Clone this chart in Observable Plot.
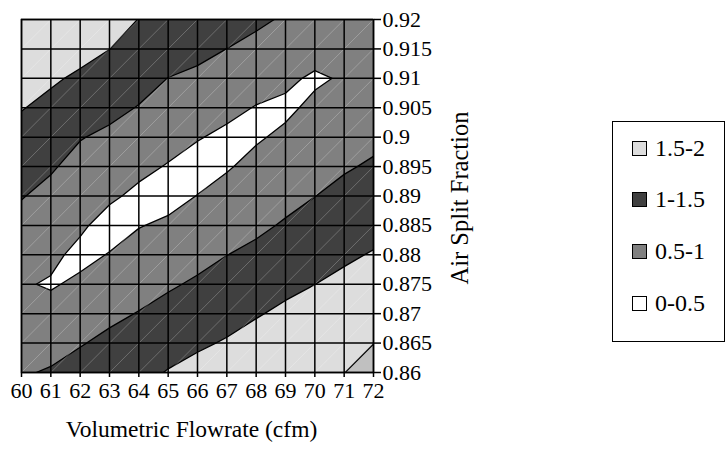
<!DOCTYPE html>
<html>
<head>
<meta charset="utf-8">
<script src="https://cdn.jsdelivr.net/npm/d3@7"></script>
<script src="https://cdn.jsdelivr.net/npm/@observablehq/plot@0.6"></script>
<style>
  html, body { margin: 0; padding: 0; background: #fff; }
  #chart { position: relative; width: 726px; height: 451px; font-family: "Liberation Serif", "Times New Roman", serif; }
  #legend { position: absolute; left: 612px; top: 121px; width: 113px; height: 221px; border: 1.5px solid #000; box-sizing: border-box; background: #fff; }
  .item { position: absolute; left: 19px; height: 24px; display: flex; align-items: center; font-size: 24px; color: #000; white-space: nowrap; }
  .sw { width: 13px; height: 13px; border: 1.5px solid #000; margin-right: 8px; flex: none; }
</style>
</head>
<body>
<div id="chart"></div>
<script>
// Grid of the surface: volumetric flowrate (cfm) across, air split fraction up.
const flowrate = [60, 61, 62, 63, 64, 65, 66, 67, 68, 69, 70, 71, 72];
const splitFraction = [0.86, 0.865, 0.87, 0.875, 0.88, 0.885, 0.89, 0.895, 0.9, 0.905, 0.91, 0.915, 0.92];

// Surface values, one row per split fraction (bottom row first), one column per flowrate.
const zRows = [
  [0.96, 1.04, 1.17, 1.295, 1.376, 1.524, 1.632, 1.716, 1.844, 1.941, 1.98, 1.995, 2.151],
  [0.79, 0.846, 0.972, 1.10, 1.197, 1.332, 1.44, 1.536, 1.656, 1.761, 1.838, 1.862, 1.995],
  [0.62, 0.652, 0.776, 0.907, 1.018, 1.14, 1.248, 1.356, 1.468, 1.581, 1.669, 1.725, 1.839],
  [0.54, 0.46, 0.579, 0.713, 0.839, 0.948, 1.058, 1.176, 1.28, 1.401, 1.498, 1.588, 1.683],
  [0.71, 0.594, 0.39, 0.519, 0.661, 0.757, 0.873, 0.996, 1.092, 1.221, 1.331, 1.441, 1.527],
  [0.87, 0.741, 0.567, 0.34, 0.482, 0.565, 0.691, 0.819, 0.921, 1.041, 1.162, 1.277, 1.368],
  [1.02, 0.89, 0.716, 0.567, 0.41, 0.373, 0.509, 0.642, 0.766, 0.881, 0.995, 1.114, 1.21],
  [1.18, 1.043, 0.866, 0.744, 0.601, 0.474, 0.332, 0.465, 0.612, 0.728, 0.859, 0.959, 1.051],
  [1.35, 1.215, 1.02, 0.92, 0.791, 0.649, 0.527, 0.412, 0.458, 0.576, 0.723, 0.823, 0.905],
  [1.52, 1.388, 1.226, 1.109, 0.981, 0.824, 0.721, 0.608, 0.48, 0.424, 0.587, 0.687, 0.765],
  [1.67, 1.56, 1.43, 1.306, 1.155, 0.995, 0.916, 0.804, 0.68, 0.578, 0.44, 0.542, 0.66],
  [1.82, 1.73, 1.64, 1.504, 1.328, 1.175, 1.111, 0.998, 0.88, 0.768, 0.67, 0.60, 0.58],
  [1.96, 1.9, 1.84, 1.70, 1.49, 1.35, 1.306, 1.196, 1.08, 0.95, 0.86, 0.72, 0.60]
];

// Contour bands (lower bound of each band) and legend entries.
const bandStarts = [0, 0.5, 1, 1.5, 2];
const legendLabels = ["1.5-2", "1-1.5", "0.5-1", "0-0.5"];
const legendStarts = [1.5, 1, 0.5, 0];

const xAxisTitle = "Volumetric Flowrate (cfm)";
const yAxisTitle = "Air Split Fraction";

const nx = flowrate.length;
const ny = splitFraction.length;
const values = zRows.flat();
const dx = flowrate[1] - flowrate[0];
const dy = splitFraction[1] - splitFraction[0];

// Cell diagonals of the surface mesh.
const cells = flowrate.slice(0, -1).flatMap((x, i) =>
  splitFraction.slice(0, -1).map((y, j) => ({x1: x, x2: flowrate[i + 1], y1: y, y2: splitFraction[j + 1]}))
);

const fmt = d => String(d);

const chart = Plot.plot({
  width: 726,
  height: 451,
  marginLeft: 21,
  marginRight: 353,
  marginTop: 19,
  marginBottom: 79,
  style: {fontFamily: "'Liberation Serif', 'Times New Roman', serif", color: "black", background: "white", overflow: "visible"},
  x: {domain: [flowrate[0], flowrate[nx - 1]], axis: null},
  y: {domain: [splitFraction[0], splitFraction[ny - 1]], axis: null},
  color: {type: "ordinal", domain: bandStarts, range: ["#ffffff", "#808080", "#404040", "#dddddd", "#c0c0c0"]},
  marks: [
    Plot.contour(values, {
      width: nx,
      height: ny,
      x1: flowrate[0] - dx / 2,
      x2: flowrate[nx - 1] + dx / 2,
      y1: splitFraction[0] - dy / 2,
      y2: splitFraction[ny - 1] + dy / 2,
      thresholds: bandStarts,
      fill: Plot.identity,
      stroke: "black",
      strokeWidth: 1.3,
      clip: true
    }),
    Plot.link(cells, {x1: "x1", y1: "y1", x2: "x2", y2: "y2", stroke: "white", strokeOpacity: 0.4, strokeWidth: 0.6}),
    Plot.ruleX(flowrate, {stroke: "black", strokeWidth: 1.5}),
    Plot.ruleY(splitFraction, {stroke: "black", strokeWidth: 1.5}),
    Plot.frame({stroke: "black", strokeWidth: 1.5}),
    Plot.axisX(flowrate, {anchor: "bottom", tickSize: 5, tickPadding: 5, fontSize: 22, tickFormat: fmt, label: null, strokeWidth: 1.5}),
    Plot.axisY(splitFraction, {anchor: "right", tickSize: 7, tickPadding: 2, fontSize: 22, tickFormat: fmt, label: null, strokeWidth: 1.5}),
    Plot.text([xAxisTitle], {frameAnchor: "bottom", lineAnchor: "middle", textAnchor: "middle", dy: 57, dx: -6, fontSize: 23.5}),
    Plot.text([yAxisTitle], {frameAnchor: "right", lineAnchor: "middle", textAnchor: "middle", dx: 87, dy: 2, rotate: -90, fontSize: 24.5})
  ]
});

const root = document.getElementById("chart");
root.appendChild(chart);

// Legend box to the right of the plot, colours taken from the plot's colour scale.
const color = chart.scale("color");
const legend = document.createElement("div");
legend.id = "legend";
legendLabels.forEach((label, i) => {
  const item = document.createElement("div");
  item.className = "item";
  item.style.top = (14 + i * 51.8) + "px";
  const sw = document.createElement("span");
  sw.className = "sw";
  sw.style.background = color.apply(legendStarts[i]);
  const tx = document.createElement("span");
  tx.textContent = label;
  item.appendChild(sw);
  item.appendChild(tx);
  legend.appendChild(item);
});
root.appendChild(legend);
</script>
</body>
</html>
